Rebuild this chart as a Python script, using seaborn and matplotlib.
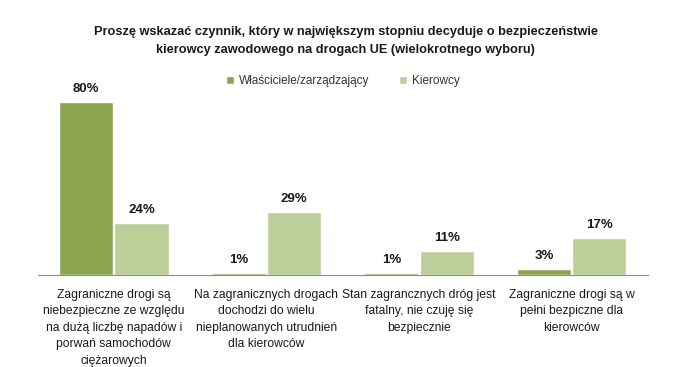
import pandas as pd
import matplotlib
matplotlib.use("Agg")
import matplotlib.pyplot as plt
import seaborn as sns

# data
categories = [
    "Zagraniczne drogi są\nniebezpieczne ze względu\nna dużą liczbę napadów i\nporwań samochodów\nciężarowych",
    "Na zagranicznych drogach\ndochodzi do wielu\nnieplanowanych utrudnień\ndla kierowców",
    "Stan zagrancznych dróg jest\nfatalny, nie czuję się\nbezpiecznie",
    "Zagraniczne drogi są w\npełni bezpiczne dla\nkierowców",
]
series = ["Właściciele/zarządzający", "Kierowcy"]
owners = [0.80, 0.01, 0.01, 0.03]
drivers = [0.24, 0.29, 0.11, 0.17]
colors = ["#8ba64f", "#bbcf98"]

df = pd.DataFrame({
    "category": categories * 2,
    "group": [series[0]] * 4 + [series[1]] * 4,
    "value": owners + drivers,
})

sns.set_style("white")
plt.rcParams["font.family"] = ["Liberation Sans", "DejaVu Sans"]

fig = plt.figure(figsize=(6.96, 3.67), dpi=100)
ax = fig.add_axes([0.0539, 0.2507, 0.877, 0.50])

sns.barplot(data=df, x="category", y="value", hue="group", palette=colors,
            saturation=1, width=0.725, gap=0.02, ax=ax, legend=True)

for cont in ax.containers:
    ax.bar_label(cont, labels=[f"{v*100:.0f}%" for v in cont.datavalues],
                 padding=5, fontsize=9.5, fontweight="bold", color="#1a1a1a")

ax.set_ylim(0, 0.85)
ax.set_xlim(-0.5, 3.5)
ax.set_xlabel("")
ax.set_ylabel("")
ax.set_yticks([])
for s in ["top", "right", "left"]:
    ax.spines[s].set_visible(False)
ax.spines["bottom"].set_color("#8c8c8c")
ax.tick_params(axis="x", length=0, pad=10, labelsize=8.7, labelcolor="#1a1a1a")
for t in ax.get_xticklabels():
    t.set_linespacing(1.5)

leg = ax.legend(loc="center", bbox_to_anchor=(0.50, 1.055), ncol=2, frameon=False,
                fontsize=8.5, handlelength=0.7, handleheight=0.7, handletextpad=0.4,
                columnspacing=2.5, labelcolor="#333333")

fig.suptitle("Proszę wskazać czynnik, który w największym stopniu decyduje o bezpieczeństwie\n"
             "kierowcy zawodowego na drogach UE (wielokrotnego wyboru)",
             x=0.497, y=0.93, fontsize=9.2, fontweight="bold", color="#1a1a1a",
             linespacing=1.75)

fig.savefig("out.png", dpi=100, facecolor="white")
